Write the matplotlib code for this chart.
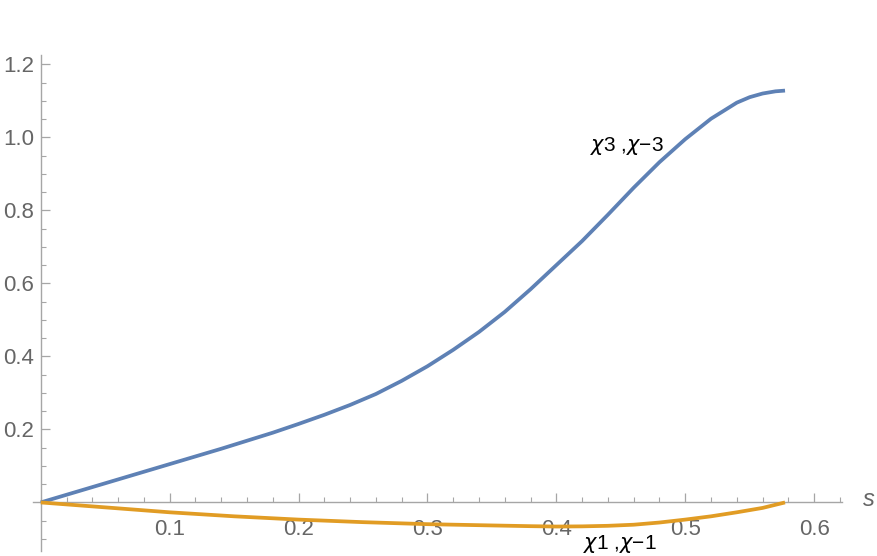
import matplotlib
matplotlib.use("Agg")
import matplotlib.pyplot as plt
from matplotlib.ticker import MultipleLocator, FixedLocator

# Data
s_blue = [0, 0.02, 0.04, 0.06, 0.08, 0.1, 0.12, 0.14, 0.16, 0.18, 0.2, 0.22, 0.24, 0.26,
          0.28, 0.3, 0.32, 0.34, 0.36, 0.38, 0.4, 0.42, 0.44, 0.46, 0.48, 0.5, 0.52,
          0.54, 0.55, 0.56, 0.57, 0.5774]
chi3 = [0, 0.021, 0.042, 0.063, 0.084, 0.105, 0.126, 0.147, 0.169, 0.191, 0.215, 0.240,
        0.267, 0.297, 0.333, 0.373, 0.418, 0.467, 0.522, 0.584, 0.650, 0.716, 0.788,
        0.862, 0.932, 0.995, 1.051, 1.095, 1.110, 1.120, 1.126, 1.128]

s_orange = [0, 0.05, 0.1, 0.15, 0.2, 0.25, 0.3, 0.35, 0.38, 0.4, 0.42, 0.44, 0.46, 0.48,
            0.5, 0.52, 0.54, 0.56, 0.5774]
chi1 = [0, -0.0135, -0.027, -0.038, -0.047, -0.054, -0.0595, -0.063, -0.065, -0.066,
        -0.0655, -0.064, -0.061, -0.055, -0.047, -0.038, -0.027, -0.015, 0]

x_ticks = [0.1, 0.2, 0.3, 0.4, 0.5, 0.6]
y_ticks = [0.2, 0.4, 0.6, 0.8, 1.0, 1.2]

plt.rcParams['font.family'] = ['Liberation Sans', 'DejaVu Sans']
plt.rcParams['mathtext.fontset'] = 'dejavusans'

fig = plt.figure(figsize=(8.77, 5.56), dpi=100)
ax = fig.add_axes([33/877, 1-551/556, (842-33)/877, (551-55)/556])

ax.plot(s_blue, chi3, color='#5E81B5', lw=2.7, solid_capstyle='butt',
        solid_joinstyle='round', zorder=3)
ax.plot(s_orange, chi1, color='#E19C24', lw=2.7, solid_capstyle='butt',
        solid_joinstyle='round', zorder=3)

ax.set_xlim(-0.006, 0.6216)
ax.set_ylim(-0.133, 1.2255)

axis_col = '#a6a6a6'
for side in ['top', 'right']:
    ax.spines[side].set_visible(False)
ax.spines['left'].set_position(('data', 0))
ax.spines['bottom'].set_position(('data', 0))
for side in ['left', 'bottom']:
    ax.spines[side].set_color(axis_col)
    ax.spines[side].set_linewidth(1.0)

ax.xaxis.set_major_locator(FixedLocator(x_ticks))
ax.yaxis.set_major_locator(FixedLocator(y_ticks))
ax.xaxis.set_minor_locator(MultipleLocator(0.02))
ax.yaxis.set_minor_locator(MultipleLocator(0.05))
ax.set_xticklabels([f"{v:.1f}" for v in x_ticks])
ax.set_yticklabels([f"{v:.1f}" for v in y_ticks])

ax.tick_params(axis='both', which='major', direction='in', length=6.5, width=0.9,
               color=axis_col, labelcolor='#666666', labelsize=16)
ax.tick_params(axis='both', which='minor', direction='in', length=3.8, width=0.8,
               color=axis_col)
ax.tick_params(axis='x', which='major', pad=12)
ax.tick_params(axis='y', which='major', pad=5)

ax.text(0.6426, 0.008, 's', color='#666666', fontsize=17, style='italic',
        ha='center', va='center', clip_on=False)

ax.text(0.455, 0.975, r'$\chi$3 ,$\chi$−3', color='black', fontsize=15,
        ha='center', va='center')
ax.text(0.449, -0.113, r'$\chi$1 ,$\chi$−1', color='black', fontsize=15,
        ha='center', va='center', clip_on=False)

fig.savefig('out.png', dpi=100)
